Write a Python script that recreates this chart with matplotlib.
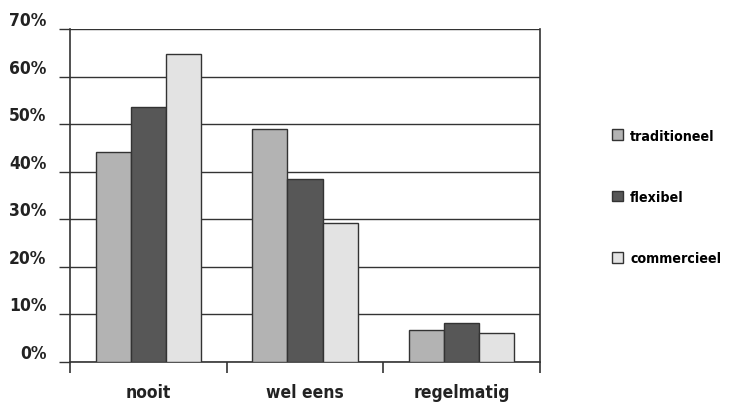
import numpy as np
import matplotlib.pyplot as plt
from matplotlib.patches import Patch

categories = ["nooit", "wel eens", "regelmatig"]
series = ["traditioneel", "flexibel", "commercieel"]
traditioneel = [44.1, 49.0, 6.8]
flexibel = [53.6, 38.4, 8.2]
commercieel = [64.7, 29.3, 6.2]
yticks = [0, 10, 20, 30, 40, 50, 60, 70]

colors = ["#b3b3b3", "#575757", "#e3e3e3"]
edge = "#333333"

plt.rcParams['font.family'] = ['DejaVu Sans']
plt.rcParams['font.stretch'] = 'condensed'
plt.rcParams['font.weight'] = 'bold'

fig = plt.figure(figsize=(7.29, 4.06), dpi=100)
ax = fig.add_axes([70/729, 43/406, 470/729, 333/406])

x = np.arange(len(categories))
w = 0.224
for i, (vals, c) in enumerate(zip([traditioneel, flexibel, commercieel], colors)):
    ax.bar(x + (i - 1) * w, vals, w, color=c, edgecolor=edge, linewidth=1.0, zorder=3)

ax.set_xlim(-0.5, 2.5)
ax.set_ylim(0, 70)
ax.set_yticks(yticks)
ax.set_yticklabels([f"{t}%" for t in yticks], fontsize=12.5, color="#222222")
# labels sit on top of their gridline
for lab in ax.get_yticklabels():
    lab.set_verticalalignment('bottom')
ax.yaxis.grid(True, color="#333333", linewidth=1.0, zorder=0)

# category labels in the middle, ticks at the boundaries
ax.set_xticks(x)
ax.set_xticklabels(categories, fontsize=12.5, color="#222222")
ax.tick_params(axis='x', length=0, pad=15)
ax.set_xticks([-0.5, 0.5, 1.5, 2.5], minor=True)
ax.tick_params(axis='x', which='minor', length=8, width=1.2, color="#333333", direction='out')
ax.tick_params(axis='y', length=8, width=1.0, color="#333333", pad=9)

ax.spines['top'].set_visible(False)
for s in ['left', 'right', 'bottom']:
    ax.spines[s].set_color("#333333")
    ax.spines[s].set_linewidth(1.2)

handles = [Patch(facecolor=c, edgecolor=edge, linewidth=1.0) for c in colors]
fig.legend(handles, series, loc='center left', bbox_to_anchor=(599/729, 208/406),
           frameon=False, handlelength=0.8, handleheight=0.8,
           handletextpad=0.5, labelspacing=3.35,
           prop={'weight': 'bold', 'size': 10.2, 'stretch': 'condensed'})

fig.savefig("out.png", dpi=100)
